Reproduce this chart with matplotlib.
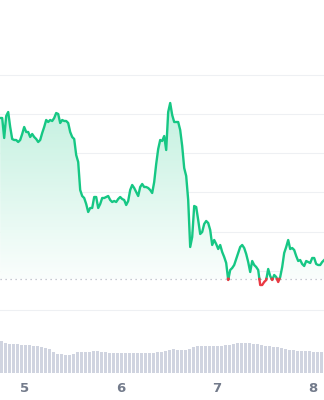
import numpy as np
import matplotlib
matplotlib.use("Agg")
import matplotlib.pyplot as plt
from matplotlib.patches import Polygon

# half-hourly price samples (arbitrary price units)
price = [
    292, 292, 272, 294, 298, 283, 271, 270, 270, 268, 270, 276, 283, 278, 278, 273,
    276, 273, 271, 268, 270, 277, 283, 290, 288, 290, 289, 292, 297, 296, 287, 290,
    289, 289, 287, 278, 273, 271, 255, 248, 220, 214, 212, 206, 198, 202, 202, 213,
    213, 202, 206, 212, 212, 213, 214, 210, 208, 209, 208, 211, 213, 211, 210, 205,
    209, 220, 225, 222, 218, 214, 223, 226, 223, 223, 222, 220, 217, 228, 246, 261,
    270, 269, 274, 260, 298, 307, 295, 288, 288, 288, 280, 264, 242, 234, 210, 163,
    173, 204, 203, 190, 176, 178, 186, 189, 187, 180, 165, 170, 166, 161, 165, 158,
    153, 147, 130, 140, 142, 145, 151, 157, 163, 165, 162, 156, 148, 138, 149, 145,
    143, 140, 125, 125, 128, 130, 141, 134, 130, 135, 133, 128, 133, 143, 157, 163,
    170, 161, 162, 160, 154, 149, 150, 146, 144, 149, 148, 147, 152, 152, 146, 145,
    145, 148, 150,
]
start_day = 4.745
open_price = 131

# hourly volume (arbitrary units)
volume = [
    32, 30, 29, 29, 29, 28, 28, 28, 27, 27, 26, 25, 24, 21, 19, 19, 18, 18, 19, 21,
    21, 21, 21, 22, 22, 21, 21, 20, 20, 20, 20, 20, 20, 20, 20, 20, 20, 20, 20, 21,
    21, 22, 23, 24, 23, 23, 23, 24, 26, 27, 27, 27, 27, 27, 27, 27, 28, 28, 29, 30,
    30, 30, 30, 29, 29, 28, 27, 27, 26, 26, 25, 24, 23, 23, 22, 22, 22, 22, 21, 21,
    21,
]
vol_start = 4.758

day_ticks = [5, 6, 7, 8]
day_labels = ["5", "6", "7", "8"]

GREEN = "#16c784"
RED = "#ea3943"

p = np.array(price, dtype=float)
t = start_day + np.arange(len(p)) / 48

# split line into pieces above/below the opening price, adding crossing points
tt, pp = [t[0]], [p[0]]
for i in range(1, len(p)):
    a, b = p[i - 1] - open_price, p[i] - open_price
    if a * b < 0:
        f = a / (a - b)
        tt.append(t[i - 1] + f * (t[i] - t[i - 1]))
        pp.append(open_price)
    tt.append(t[i])
    pp.append(p[i])
tt = np.array(tt)
pp = np.array(pp)

fig = plt.figure(figsize=(3.24, 4.0), dpi=100)
xlim = (4.743, 8.118)

ax = fig.add_axes([0, 0.175, 1, 0.825])
ax.set_xlim(*xlim)
ax.set_ylim(80, 410)
ax.axis("off")

for g in 100 + 39.2 * np.arange(7):
    ax.axhline(g, color="#eef0f3", lw=0.8, zorder=0)

# gradient fill between line and opening price
top = 310
grad = np.linspace(0.0, 1.0, 256)[:, None]
alpha = 0.02 + 0.24 * grad
green_rgb = np.array(matplotlib.colors.to_rgb(GREEN))
img = np.ones((256, 1, 3)) * (1 - alpha[..., None]) + green_rgb * alpha[..., None]
im = ax.imshow(img, extent=[xlim[0], xlim[1], open_price, top], origin="lower",
               aspect="auto", zorder=1)
above = np.maximum(pp, open_price)
verts = np.column_stack([np.r_[tt, tt[::-1]], np.r_[above, np.full(len(tt), open_price)]])
poly = Polygon(verts, closed=True, facecolor="none", edgecolor="none")
ax.add_patch(poly)
im.set_clip_path(poly)
ax.set_ylim(80, 410)

ax.axhline(open_price, color="#b4b9c4", lw=0.9, ls=(0, (1, 3)), zorder=2)

up = np.where(pp >= open_price - 1e-9, pp, np.nan)
dn = np.where(pp <= open_price + 1e-9, pp, np.nan)
ax.plot(tt, up, color=GREEN, lw=1.7, zorder=3, solid_joinstyle="round")
ax.plot(tt, dn, color=RED, lw=1.7, zorder=3, solid_joinstyle="round")

# volume bars
vax = fig.add_axes([0, 0.0675, 1, 0.1])
vt = vol_start + np.arange(len(volume)) / 24
vax.bar(vt, volume, width=0.7 / 24, color="#d0d4e0", align="center")
vax.set_xlim(*xlim)
vax.set_ylim(0, 40)
vax.axis("off")

for d, lab in zip(day_ticks, day_labels):
    fig.text((d - xlim[0]) / (xlim[1] - xlim[0]), 1 - 389 / 400, lab,
             ha="center", va="center", fontsize=9.5, color="#737b8b",
             fontweight="semibold")

fig.savefig("out.png", dpi=100)
